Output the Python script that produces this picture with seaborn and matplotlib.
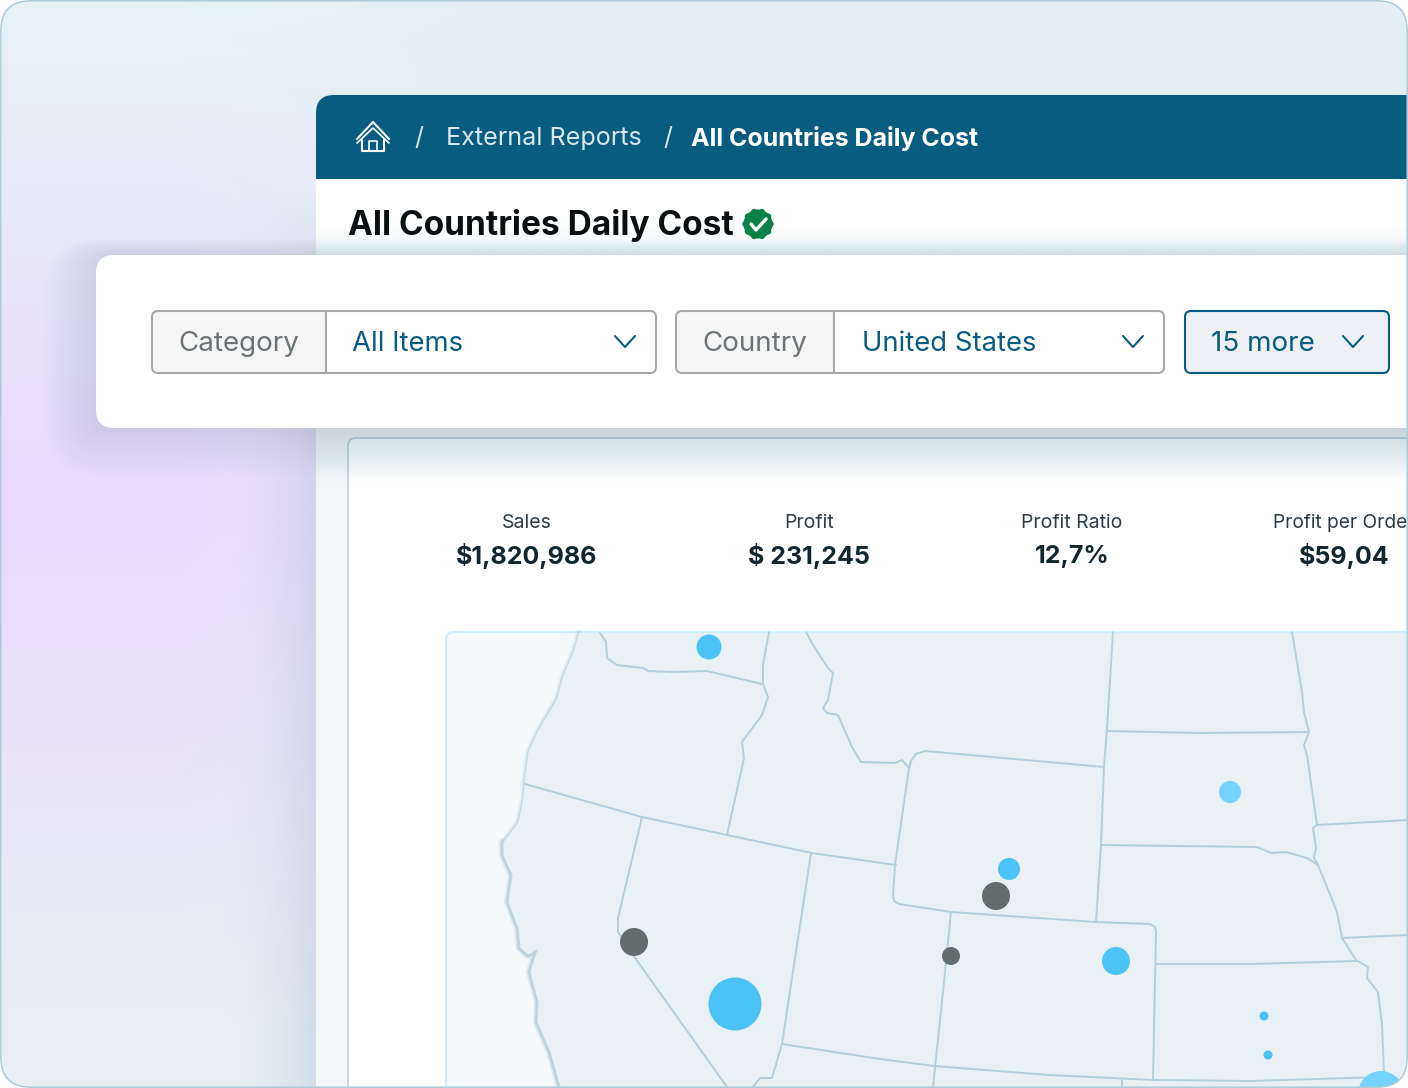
import numpy as np
import pandas as pd
import matplotlib
matplotlib.use('Agg')
import matplotlib.pyplot as plt
from matplotlib.colors import to_rgb
from matplotlib.patches import FancyBboxPatch, Polygon, Circle
import seaborn as sns

# ── values ───────────────────────────────────────────────────
metric_names  = ['Sales', 'Profit', 'Profit Ratio', 'Profit per Orde']
metric_values = ['$1,820,986', '$ 231,245', '12,7%', '$59,04']

point_x    = [709, 634, 735, 1230, 1009, 996, 951, 1116, 1264, 1268, 1381]
point_y    = [647, 942, 1004, 792, 869, 896, 956, 961, 1016, 1055, 1094]
point_d    = [25, 28, 53, 22, 22, 28, 18, 28, 9, 9, 46]
point_kind = ['blue', 'gray', 'blue', 'light', 'blue', 'gray', 'gray', 'blue', 'blue', 'blue', 'light']

coast = [(579,632),(573,652),(563,675),(557,698),(547,715),(537,732),(528,752),(524,782),(523,798),
         (518,822),(503,842),(503,855),(512,875),(508,902),(518,928),(520,948),(528,955),(537,950),
         (533,962),(530,972),(538,1002),(537,1022),(550,1052),(560,1087)]
wa_or = [(600,633),(606,642),(607,658),(617,665),(643,668),(648,671),(673,672),(707,671),(762,684)]
wa_id = [(769,632),(763,665),(763,684)]
or_id = [(763,684),(768,697),(762,715),(742,742),(744,758),(727,835)]
lat42 = [(525,784),(642,817),(727,835),(812,853),(896,865)]
ca_nv = [(642,817),(618,918),(618,932),(633,955),(727,1087)]
nv_ut = [(811,853),(782,1044),(772,1078),(760,1078),(753,1087)]
lat37 = [(782,1044),(880,1059),(934,1066),(1049,1075),(1153,1080),(1251,1081),(1384,1077)]
id_mt = [(806,632),(813,645),(828,668),(833,673),(828,700),(823,708),(827,713),(838,715),(852,747),
         (861,762),(895,763),(902,760),(909,768)]
wy_box = [(1104,767),(925,751),(916,754),(911,761),(909,768),(895,865),(893,895),(894,901),(899,904),
          (951,912),(1095,922),(1150,924),(1155,927),(1156,932),(1153,1080)]
wy_sd = [(1104,767),(1101,845),(1096,922)]
mt_nd = [(1113,632),(1107,728),(1104,767)]
nd_sd = [(1108,731),(1200,733),(1309,732)]
red_river = [(1292,632),(1302,692),(1304,712),(1309,732),(1304,745),(1307,755),(1317,825),(1313,828),
             (1316,848),(1314,858),(1318,865),(1329,892),(1337,912),(1342,938),(1356,960),(1368,967),
             (1367,978),(1378,992),(1382,1025),(1384,1073)]
sd_ne = [(1101,845),(1257,847),(1271,853),(1286,852),(1307,858),(1318,865)]
mn_ia = [(1317,825),(1408,820)]
ia_mo = [(1342,938),(1408,935)]
ks_ne = [(1156,964),(1251,964),(1356,961)]
co_ut = [(951,912),(943,992),(933,1087)]
nm_ok = [(1122,1080),(1122,1087)]
borders = [wa_or, wa_id, or_id, lat42, ca_nv, nv_ut, lat37, id_mt, wy_box, wy_sd, mt_nd, nd_sd,
           red_river, sd_ne, mn_ia, ia_mo, ks_ne, co_ut, nm_ok]

BRAND = '#085c80'
LAND  = '#e9f1f5'
LINE  = '#b3cfdb'
GRAY  = '#6b7376'
INK   = '#12262f'

sns.set_theme(style='white')
plt.rcParams['font.family'] = ['Inter', 'DejaVu Sans']

fig = plt.figure(figsize=(14.08, 10.88), dpi=100, facecolor='white')
ax = fig.add_axes([0, 0, 1, 1])
ax.axis('off')


def box(x0, y0, x1, y1, r=5, **kw):
    p = FancyBboxPatch((x0, y0), x1-x0, y1-y0, boxstyle=f'round,pad=0,rounding_size={r}', **kw)
    ax.add_patch(p)
    return p


def vshade(x0, x1, y0, y1, color, a0, a1, z):
    a = np.linspace(a0, a1, 64)[:, None]
    img = np.dstack([np.full_like(a, c) for c in to_rgb(color)] + [a])
    ax.imshow(img, extent=(x0, x1, y1, y0), aspect='auto', zorder=z, interpolation='bilinear')


def polyline(pts, **kw):
    xs, ys = zip(*pts)
    ax.plot(xs, ys, solid_capstyle='round', solid_joinstyle='round', **kw)


# ── backdrop ─────────────────────────────────────────────────
yy, xx = np.mgrid[0:1088:272j, 0:1408:352j]
teal, lilac, pale = np.array(to_rgb('#e6f3f6')), np.array(to_rgb('#eadbfc')), np.array(to_rgb('#e8eff5'))
t_up = np.clip(yy/480, 0, 1)[..., None]
t_dn = np.clip((yy-520)/520, 0, 1)[..., None]
bg = np.where(yy[..., None] < 500, teal*(1-t_up)+lilac*t_up, lilac*(1-t_dn)+pale*t_dn)
fade = np.clip((xx-180)/300, 0, 1)[..., None]*np.clip(1-yy/1088+.25, 0, 1)[..., None]
bg = bg*(1-fade*.8)+np.array(to_rgb('#e4eff5'))*fade*.8
shade = (np.clip((xx-215)/100, 0, 1)**2*np.clip((yy-190)/120, 0, 1))[..., None]*.17
bg = bg*(1-shade)+np.array(to_rgb('#6f88a8'))*shade
ax.imshow(np.clip(bg, 0, 1), extent=(0, 1408, 1088, 0), aspect='auto', zorder=0, interpolation='bilinear')

# ── report panel ─────────────────────────────────────────────
box(316, 95, 1500, 1200, r=18, fc='#f3f7f9', ec='none', zorder=1)
box(316, 95, 1500, 300, r=18, fc=BRAND, ec='none', zorder=2)
ax.fill_between([316, 1408], 179, 300, color='white', lw=0, zorder=3)

# report card and map
box(348, 438, 1500, 1200, r=8, fc='white', ec='#b5d2de', lw=1.2, zorder=4)
box(446, 632, 1500, 1200, r=8, fc='#f5f9fa', ec='#cdeefb', lw=1.5, zorder=5)
for lw, alpha in [(5, .07), (3, .10), (1.8, .14)]:
    polyline(coast, color='#7fa9bc', lw=lw, alpha=alpha, zorder=5.2)
for lw, alpha in [(6, .12), (3.5, .18)]:
    polyline(coast[10:], color='#6f9db2', lw=lw, alpha=alpha, zorder=5.2)
land = coast + [(1420, 1087), (1420, 633), (579, 633)]
ax.add_patch(Polygon(land, closed=True, fc=LAND, ec='none', zorder=5.4))
polyline(coast, color='#c4d9e2', lw=.8, zorder=5.5)
for seg in borders:
    polyline(seg, color=LINE, lw=1.4, zorder=5.6)

# cities
cities = pd.DataFrame({'x': point_x, 'y': point_y, 'diam': point_d, 'kind': point_kind})
sns.scatterplot(data=cities, x='x', y='y', hue='kind', size='diam', ax=ax,
                palette={'blue': '#4bc3f7', 'gray': '#626d6e', 'light': '#74d4ff'},
                sizes={d: (d*.72)**2 for d in point_d}, linewidth=0, legend=False, zorder=6)

# kpis
for name, value, cx in zip(metric_names[:3], metric_values[:3], [527, 809, 1072]):
    ax.text(cx, 523, name, ha='center', va='center', fontsize=14, color='#2b3c44', zorder=7)
    ax.text(cx, 556, value, ha='center', va='center', fontsize=18, fontweight='bold', color=INK, zorder=7)
ax.text(1273, 523, metric_names[3], ha='left', va='center', fontsize=13.8, color='#2b3c44', zorder=7)
ax.text(1344, 556, metric_values[3], ha='center', va='center', fontsize=18, fontweight='bold', color=INK, zorder=7)

# soft shadows of the filter card over the panel
vshade(316, 1408, 428, 492, '#6f95a8', .15, 0, 4.5)
vshade(316, 1408, 222, 256, '#6f95a8', 0, .11, 4.5)

# ── breadcrumb ───────────────────────────────────────────────
polyline([(357, 139), (373, 122), (389, 139)], color='white', lw=1.5, zorder=8)
polyline([(357, 143), (373, 128), (389, 143)], color='white', lw=1.2, zorder=8)
polyline([(362, 140), (362, 151), (384, 151), (384, 140)], color='white', lw=1.5, zorder=8)
polyline([(369, 151), (369, 141), (377, 141), (377, 151)], color='white', lw=1.2, zorder=8)
ax.text(419, 139, '/', ha='center', va='center', fontsize=18, color='#d9e7ee', zorder=8)
ax.text(446, 139, 'External Reports', ha='left', va='center', fontsize=18.1, color='#d9e7ee', zorder=8)
ax.text(668, 139, '/', ha='center', va='center', fontsize=18, color='#d9e7ee', zorder=8)
ax.text(691, 138.5, 'All Countries Daily Cost', ha='left', va='center', fontsize=17.95,
        fontweight='bold', color='white', zorder=8)

ax.text(348.5, 226, 'All Countries Daily Cost', ha='left', va='center', fontsize=24.05,
        fontweight='bold', color='#0a0f12', zorder=8)
ax.add_patch(Circle((758, 224), 14.5, fc='#0b8047', ec='none', zorder=8))
for ang in np.arange(0, 360, 36):
    ax.add_patch(Circle((758+12.5*np.cos(np.radians(ang)), 224+12.5*np.sin(np.radians(ang))), 3.2,
                        fc='#0b8047', ec='none', zorder=8))
polyline([(751, 224), (756, 230), (766, 219)], color='white', lw=2.4, zorder=9)

# ── filter card ──────────────────────────────────────────────
for i in range(1, 21):
    box(96-i*2.6, 255-i*.8, 1500, 428+i*2.4, r=18+i*2, fc='#5f76a0', ec='none', alpha=.009, zorder=9)
box(96, 255, 1500, 428, r=18, fc='white', ec='none', zorder=10)

for x0, xd, x1, label, value, tx in [(152, 326, 656, 'Category', 'All Items', 352.5),
                                     (676, 834, 1164, 'Country', 'United States', 861.5)]:
    box(x0, 311, x1, 373, r=6, fc='white', ec='none', zorder=11)
    box(x0, 311, xd+8, 373, r=6, fc='#f5f5f5', ec='none', zorder=11)
    ax.fill_between([xd, xd+9], 310, 374, color='white', lw=0, zorder=11.1)
    box(x0, 311, x1, 373, r=6, fc='none', ec='#a8a8a8', lw=1.5, zorder=11.2)
    ax.plot([xd, xd], [311, 373], color='#a8a8a8', lw=1.5, zorder=11.2)
    ax.text((x0+xd)/2-.5, 344, label, ha='center', va='center', fontsize=20, color=GRAY, zorder=12)
    ax.text(tx, 344, value, ha='left', va='center', fontsize=19.8, color=BRAND, zorder=12)
box(1185, 311, 1389, 373, r=6, fc='#edf1f5', ec=BRAND, lw=1.5, zorder=11)
ax.text(1211, 344, '15 more', ha='left', va='center', fontsize=20, color=BRAND, zorder=12)
for cx in (625, 1133, 1353):
    polyline([(cx-10, 336), (cx, 347), (cx+10, 336)], color=BRAND, lw=1.5, zorder=12)

# ── outer frame ──────────────────────────────────────────────
frame = box(.8, .8, 1407.2, 1087.2, r=30, fc='none', ec='#aecbd8', lw=1.1, zorder=20)
for art in ax.images + ax.patches + ax.lines + ax.collections:
    if art is not frame:
        art.set_clip_path(frame)

ax.set_xlim(0, 1408)
ax.set_ylim(1088, 0)
ax.set_xlabel('')
ax.set_ylabel('')
fig.savefig('out.png', dpi=100)
